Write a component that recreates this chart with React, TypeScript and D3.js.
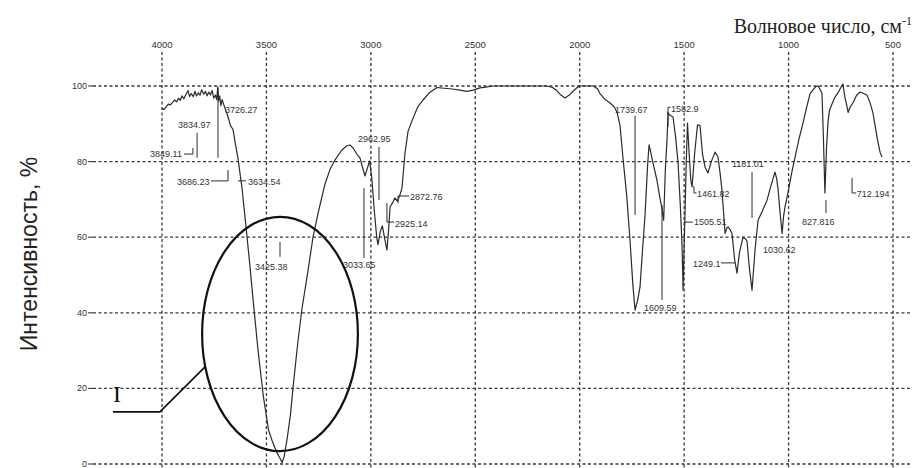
import React from 'react';
import * as d3 from 'd3';

// ---------- data ----------
const waveTicks = [4000, 3500, 3000, 2500, 2000, 1500, 1000, 500];
const percentTicks = [0, 20, 40, 60, 80, 100];

const spectrumWave = [
  4000, 3990, 3980, 3970, 3960, 3950, 3940, 3930, 3920, 3912, 3905, 3895, 3885, 3875, 3868, 3860,
  3850, 3842, 3835, 3826, 3818, 3810, 3800, 3792, 3784, 3776, 3768, 3760, 3752, 3744, 3738, 3733,
  3729, 3724, 3718, 3712, 3705, 3695, 3686, 3672, 3660, 3648, 3636, 3617, 3600, 3580, 3564, 3540,
  3515, 3490, 3469, 3450, 3435, 3425, 3415, 3400, 3385, 3373, 3350, 3330, 3300, 3277, 3250, 3220,
  3195, 3172, 3140, 3115, 3100, 3085, 3065, 3052, 3040, 3028, 3018, 3006, 2996, 2985, 2972, 2966,
  2955, 2945, 2935, 2923, 2915, 2908, 2895, 2885, 2872, 2862, 2851, 2837, 2822, 2798, 2775, 2750,
  2720, 2684, 2650, 2610, 2573, 2540, 2510, 2478, 2450, 2416, 2300, 2157, 2130, 2110, 2090, 2070,
  2050, 2032, 2012, 1999, 1936, 1915, 1903, 1880, 1855, 1835, 1821, 1807, 1793, 1775, 1759, 1745,
  1735, 1722, 1711, 1700, 1687, 1675, 1668, 1660, 1649, 1640, 1630, 1618, 1606, 1598, 1590, 1582,
  1577, 1570, 1560, 1553, 1540, 1529, 1518, 1510, 1505, 1497, 1490, 1484, 1476, 1468, 1462, 1450,
  1436, 1424, 1412, 1400, 1386, 1370, 1352, 1338, 1328, 1319, 1304, 1295, 1290, 1280, 1271, 1258,
  1247, 1235, 1218, 1205, 1199, 1188, 1175, 1160, 1146, 1125, 1103, 1085, 1065, 1057, 1050, 1040,
  1031, 1024, 1017, 1003, 985, 969, 950, 931, 915, 897, 883, 870, 859, 848, 840, 833,
  826, 818, 811, 804, 790, 778, 760, 748, 740, 730, 722, 715, 705, 692, 675, 658,
  640, 625, 610, 596, 575, 562, 553,
];
const spectrumT = [
  94, 93.8, 94.5, 95.2, 95, 95.6, 96.3, 95.8, 96.8, 96.2, 97.4, 96.6, 97.8, 98.8, 97.2, 98,
  97.2, 98.6, 97.4, 98.2, 97.6, 99, 97.8, 98.6, 97.4, 98.4, 97.6, 98.8, 96.8, 97.6, 96.4, 99.8,
  96, 97.4, 94.8, 96.4, 95.2, 93.6, 92.2, 89.5, 88.5, 84.5, 80.8, 73, 64, 53, 43.5, 30,
  18, 9, 5.6, 3, 1.5, 0.4, 2, 7, 13, 20, 32, 41, 51.5, 60, 67, 74,
  78, 80.4, 83, 84.2, 84.4, 83.6, 81.8, 81, 78.5, 76.2, 78, 80.2, 76, 68, 60, 58,
  61.5, 63, 60, 56.6, 62, 68, 69.2, 70.4, 69.5, 71, 73, 82, 88, 91.5, 94.5, 96.3,
  98.2, 99.6, 99.4, 99.2, 98.9, 98.6, 98.9, 99.5, 99.7, 100, 100, 100, 99.6, 98.8, 97.6, 96.8,
  97.6, 98.6, 99.6, 100, 100, 99.3, 98, 96.5, 95.5, 94.5, 93, 89.5, 81, 71, 59, 47,
  40.7, 43.5, 47, 56, 66, 79, 84.4, 82.5, 79.6, 77.5, 75, 71, 67.5, 64.5, 78, 85.7,
  93, 92.4, 92, 91.8, 86, 79.6, 68, 57.5, 46, 64, 79.6, 90.2, 82, 75, 73.3, 82,
  89.7, 89.5, 82, 78.6, 77, 80, 82.5, 81.2, 77, 72.5, 61, 62.5, 62.7, 62, 61, 54,
  50.5, 56, 60, 59.5, 59, 52, 46, 57, 64.5, 67, 69.8, 73.5, 77.2, 75.5, 72.5, 66,
  61, 65.5, 68, 71.7, 77, 81.2, 86, 90.2, 94, 98, 99, 99.8, 100, 99, 98, 86,
  71.7, 84, 90.5, 93.6, 95.5, 97, 98.5, 99.8, 100.5, 97, 95, 93, 94.5, 95.5, 97.5, 98.4,
  98, 97.6, 95.6, 92.9, 86, 82.5, 81.2,
];

// peak annotations: label, label left (wavenumber), label baseline (%), leader polyline in data units
const peakLabels = [
  '3849.11', '3834.97', '3726.27', '3686.23', '3634.54', '3425.38', '3033.65', '2962.95', '2925.14', '2872.76',
  '1739.67', '1609.59', '1582.9', '1461.82', '1505.51', '1249.1', '1181.01', '1030.62', '827.816', '712.194',
];
const peakLabelWave = [
  4057, 3923, 3698, 3928, 3588, 3555, 3133, 3062, 2884, 2813,
  1831, 1692, 1563, 1439, 1453, 1458, 1271, 1123, 936, 673,
];
const peakLabelT = [
  81.2, 88.9, 92.9, 73.8, 73.8, 51.3, 51.9, 85.2, 62.7, 69.8,
  92.9, 40.5, 93.1, 70.6, 63.2, 52.1, 78.6, 55.8, 63.2, 70.6,
];
const peakLeaders: [number, number][][] = [
  [[3895, 82.0], [3852, 82.0], [3852, 83.6]],
  [[3832, 87.6], [3832, 81.0]],
  [[3732, 99.5], [3732, 81.0]],
  [[3765, 74.9], [3684, 74.9], [3684, 77.8]],
  [[3636, 74.9], [3598, 74.9]],
  [[3435, 58.7], [3435, 54.8]],
  [[3033, 73.0], [3033, 54.5]],
  [[2961, 83.9], [2961, 69.8]],
  [[2923, 69.0], [2923, 64.0], [2889, 64.0]],
  [[2870, 69.0], [2870, 70.9], [2817, 70.9]],
  [[1735, 92.1], [1735, 65.9]],
  [[1606, 68.5], [1606, 43.4]],
  [[1577, 89.2], [1577, 94.4], [1565, 94.4]],
  [[1453, 73.5], [1453, 71.7], [1441, 71.7]],
  [[1501, 64.0], [1458, 64.0]],
  [[1324, 53.2], [1257, 53.2]],
  [[1175, 77.2], [1175, 65.1]],
  [],
  [[821, 69.8], [821, 66.4]],
  [[696, 75.7], [696, 71.7], [676, 71.7]],
];

// highlighted region (ellipse) and its label "I"
const regionCenter = [3435, 34.4];
const regionRadius = [373, 31];
const regionLabel = 'I';
const regionLeader: [number, number][] = [[4235, 13.8], [4010, 13.8], [3794, 25.7]];
const regionLabelPos = [4235, 16.5];

const xTitle = 'Волновое число, см';
const yTitle = 'Интенсивность, %';

// ---------- chart ----------
const W = 922;
const H = 468;

export default function App() {
  const x = d3.scaleLinear().domain([4000, 500]).range([162, 893]);
  const y = d3.scaleLinear().domain([0, 100]).range([464, 86]);

  const pts: [number, number][] = spectrumWave.map((w, i) => [w, spectrumT[i]]);
  const line = d3
    .line<[number, number]>()
    .x((d) => x(d[0]))
    .y((d) => y(d[1]));

  const grid = '#3a3a3a';
  const ink = '#2b2b2b';
  const sans = "'Liberation Sans', Arial, sans-serif";
  const serif = "'Liberation Serif', 'Times New Roman', serif";

  const ex = x(regionCenter[0]);
  const ey = y(regionCenter[1]);
  const erx = Math.abs(x(regionCenter[0] + regionRadius[0]) - ex);
  const ery = Math.abs(y(regionCenter[1] + regionRadius[1]) - ey);

  return (
    <svg
      width={W}
      height={H}
      style={{ position: 'absolute', left: 0, top: 0, background: '#fff' }}
      xmlns="http://www.w3.org/2000/svg"
    >
      <rect x={0} y={0} width={W} height={H} fill="#fff" />

      {/* x title */}
      <text x={912} y={33} textAnchor="end" fontFamily={serif} fontSize={20} fill="#222">
        {xTitle}
        <tspan fontSize={12} dy={-8}>-1</tspan>
      </text>

      {/* y title */}
      <text
        transform={`translate(37,254) rotate(-90)`}
        textAnchor="middle"
        fontFamily={sans}
        fontSize={23}
        fill="#222"
      >
        {yTitle}
      </text>

      {/* vertical grid + top labels */}
      {waveTicks.map((t) => (
        <g key={'v' + t}>
          <line
            x1={x(t)}
            x2={x(t)}
            y1={52}
            y2={H}
            stroke={grid}
            strokeWidth={1.3}
            strokeDasharray="3,2.5"
          />
          <text
            x={x(t)}
            y={48}
            textAnchor="middle"
            fontFamily={sans}
            fontSize={9.5}
            fill="#333"
          >
            {t}
          </text>
        </g>
      ))}

      {/* horizontal grid + left labels */}
      {percentTicks.map((t) => (
        <g key={'h' + t}>
          <line x1={88} x2={93} y1={y(t)} y2={y(t)} stroke={grid} strokeWidth={1.1} />
          <line
            x1={93}
            x2={912}
            y1={y(t)}
            y2={y(t)}
            stroke={grid}
            strokeWidth={1.3}
            strokeDasharray="3,2.5"
          />
          <text
            x={87}
            y={y(t) + 3}
            textAnchor="end"
            fontFamily={sans}
            fontSize={9}
            fill="#333"
          >
            {t}
          </text>
        </g>
      ))}

      {/* spectrum */}
      <path d={line(pts) || ''} fill="none" stroke={ink} strokeWidth={1.2} strokeLinejoin="round" />

      {/* peak annotations */}
      {peakLabels.map((lab, i) => (
        <g key={'p' + i}>
          {peakLeaders[i].length > 1 && (
            <path d={line(peakLeaders[i]) || ''} fill="none" stroke={ink} strokeWidth={1} />
          )}
          <text
            x={x(peakLabelWave[i])}
            y={y(peakLabelT[i])}
            fontFamily={sans}
            fontSize={9}
            fill="#333"
          >
            {lab}
          </text>
        </g>
      ))}

      {/* highlighted region */}
      <ellipse cx={ex} cy={ey} rx={erx} ry={ery} fill="none" stroke="#111" strokeWidth={2.2} />
      <path d={line(regionLeader) || ''} fill="none" stroke="#111" strokeWidth={1.6} />
      <text
        x={x(regionLabelPos[0])}
        y={y(regionLabelPos[1])}
        fontFamily={serif}
        fontSize={24}
        fill="#111"
      >
        {regionLabel}
      </text>
    </svg>
  );
}
